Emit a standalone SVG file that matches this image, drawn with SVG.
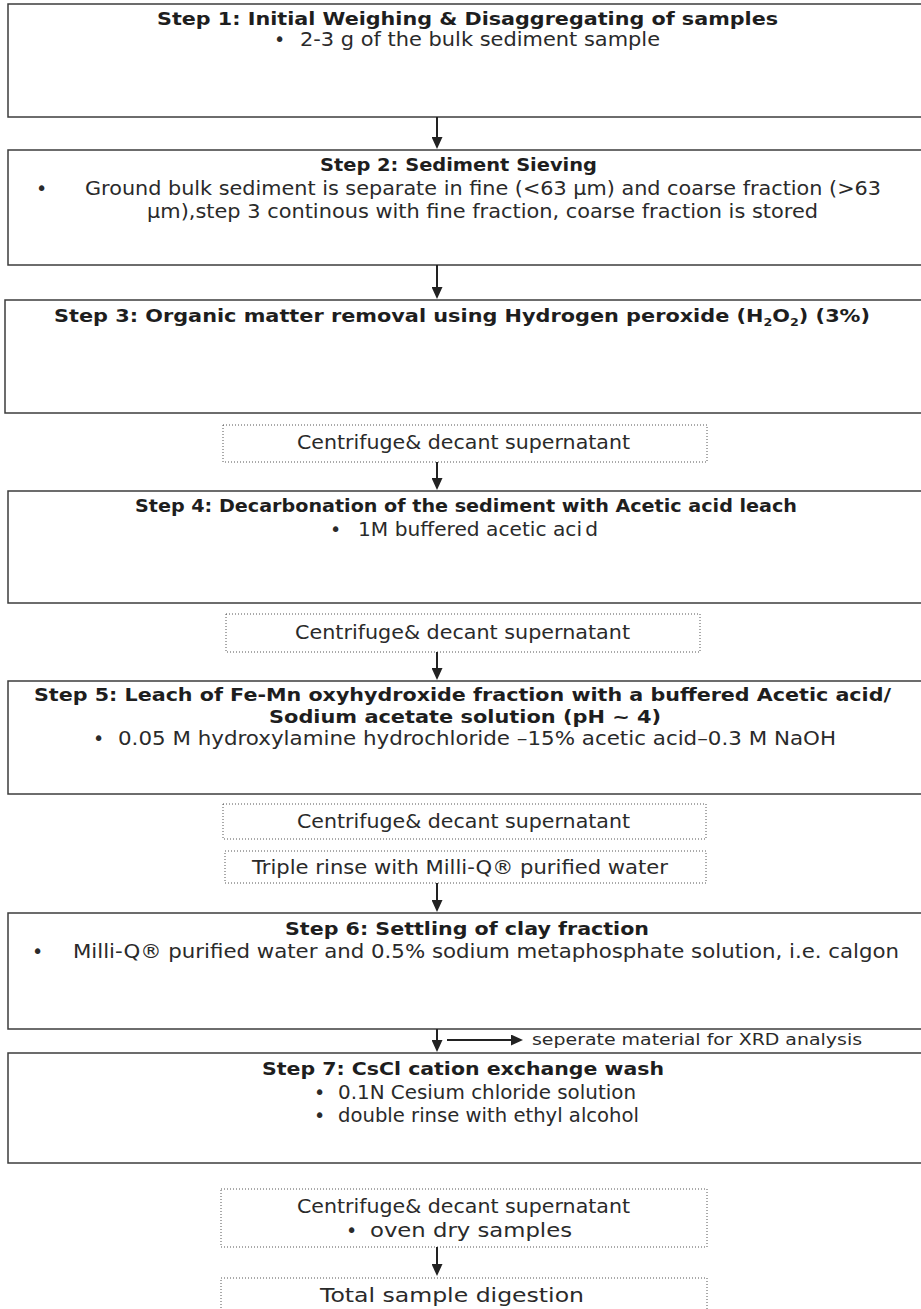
<svg xmlns="http://www.w3.org/2000/svg" width="921" height="1309" viewBox="0 0 921 1309">
<defs>
<style>
.box{fill:#fff;stroke:#3c3c3c;stroke-width:1.5}
.dot{fill:#fff;stroke:#555;stroke-width:1;stroke-dasharray:1 2}
.t{font-family:"DejaVu Sans",Verdana,sans-serif;font-weight:bold;font-size:18px;fill:#1e1e1e}
.p{font-family:"DejaVu Sans",Verdana,sans-serif;font-size:19px;fill:#2a2a2a}
.s{font-family:"DejaVu Sans",Verdana,sans-serif;font-size:16px;fill:#2a2a2a}
.c{stroke:#222;stroke-width:2;fill:none;marker-end:url(#ah)}
</style>
<marker id="ah" viewBox="0 0 12 11" refX="9" refY="5.5" markerWidth="12" markerHeight="11" markerUnits="userSpaceOnUse" orient="auto">
<path d="M0,0 L12,5.5 L0,11 z" fill="#222"/>
</marker>
</defs>
<rect width="921" height="1309" fill="#fff"/>

<g id="step1">
<rect class="box" x="8" y="4" width="920" height="113"/>
<text class="t" x="157" y="25" textLength="621" lengthAdjust="spacingAndGlyphs">Step 1: Initial Weighing &amp; Disaggregating of samples</text>
<text class="p" x="274" y="46">•</text>
<text class="p" x="300" y="46" textLength="360" lengthAdjust="spacingAndGlyphs">2-3 g of the bulk sediment sample</text>
</g>

<g id="step2">
<rect class="box" x="8" y="150" width="920" height="115"/>
<text class="t" x="320" y="171" textLength="277" lengthAdjust="spacingAndGlyphs">Step 2: Sediment Sieving</text>
<text class="p" x="36" y="195">•</text>
<text class="p" x="85" y="195" textLength="796" lengthAdjust="spacingAndGlyphs">Ground bulk sediment is separate in fine (&lt;63 μm) and coarse fraction (&gt;63</text>
<text class="p" x="147" y="218" textLength="671" lengthAdjust="spacingAndGlyphs">μm),step 3 continous with fine fraction, coarse fraction is stored</text>
</g>

<g id="step3">
<rect class="box" x="5" y="300" width="920" height="113"/>
<text class="t" x="54" y="322" textLength="816" lengthAdjust="spacingAndGlyphs">Step 3: Organic matter removal using Hydrogen peroxide (H<tspan font-size="11" dy="4">2</tspan><tspan dy="-4">O</tspan><tspan font-size="11" dy="4">2</tspan><tspan dy="-4">) (3%)</tspan></text>
</g>

<g id="rinse1">
<rect class="dot" x="223" y="425" width="484" height="37"/>
<text class="p" x="297" y="449" textLength="333" lengthAdjust="spacingAndGlyphs">Centrifuge&amp; decant supernatant</text>
</g>

<g id="step4">
<rect class="box" x="8" y="491" width="920" height="112"/>
<text class="t" x="135" y="512" textLength="662" lengthAdjust="spacingAndGlyphs">Step 4: Decarbonation of the sediment with Acetic acid leach</text>
<text class="p" x="330" y="536">•</text>
<text class="p" x="358" y="536" textLength="240" lengthAdjust="spacingAndGlyphs">1M buffered acetic aci<tspan dx="3">d</tspan></text>
</g>

<g id="rinse2">
<rect class="dot" x="226" y="614" width="474" height="38"/>
<text class="p" x="295" y="639" textLength="335" lengthAdjust="spacingAndGlyphs">Centrifuge&amp; decant supernatant</text>
</g>

<g id="step5">
<rect class="box" x="8" y="681" width="920" height="113"/>
<text class="t" x="34" y="701" textLength="857" lengthAdjust="spacingAndGlyphs">Step 5: Leach of Fe-Mn oxyhydroxide fraction with a buffered  Acetic acid/</text>
<text class="t" x="269" y="723" textLength="392" lengthAdjust="spacingAndGlyphs">Sodium acetate solution (pH ~ 4)</text>
<text class="p" x="93" y="745">•</text>
<text class="p" x="118" y="745" textLength="718" lengthAdjust="spacingAndGlyphs">0.05 M hydroxylamine hydrochloride –15% acetic acid–0.3 M NaOH</text>
</g>

<g id="rinse3">
<rect class="dot" x="223" y="804" width="483" height="35"/>
<text class="p" x="297" y="828" textLength="333" lengthAdjust="spacingAndGlyphs">Centrifuge&amp; decant supernatant</text>
</g>

<g id="rinse4">
<rect class="dot" x="225" y="851" width="481" height="32"/>
<text class="p" x="252" y="874" textLength="416" lengthAdjust="spacingAndGlyphs">Triple rinse with Milli-Q® purified water</text>
</g>

<g id="step6">
<rect class="box" x="8" y="913" width="920" height="116"/>
<text class="t" x="285" y="935" textLength="364" lengthAdjust="spacingAndGlyphs">Step 6: Settling of clay fraction</text>
<text class="p" x="32" y="958">•</text>
<text class="p" x="73" y="958" textLength="826" lengthAdjust="spacingAndGlyphs">Milli-Q® purified water and 0.5% sodium metaphosphate solution, i.e. calgon</text>
</g>

<g id="xrd">
<text class="s" x="532" y="1045" textLength="330" lengthAdjust="spacingAndGlyphs">seperate material for XRD analysis</text>
</g>

<g id="step7">
<rect class="box" x="8" y="1053" width="920" height="110"/>
<text class="t" x="262" y="1075" textLength="402" lengthAdjust="spacingAndGlyphs">Step 7: CsCl cation exchange wash</text>
<text class="p" x="314" y="1099">•</text>
<text class="p" x="338" y="1099" textLength="298" lengthAdjust="spacingAndGlyphs">0.1N Cesium chloride solution</text>
<text class="p" x="314" y="1122">•</text>
<text class="p" x="338" y="1122" textLength="301" lengthAdjust="spacingAndGlyphs">double rinse with ethyl alcohol</text>
</g>

<g id="rinse5">
<rect class="dot" x="221" y="1189" width="486" height="58"/>
<text class="p" x="297" y="1213" textLength="333" lengthAdjust="spacingAndGlyphs">Centrifuge&amp; decant supernatant</text>
<text class="p" x="346" y="1237">•</text>
<text class="p" x="370" y="1237" textLength="202" lengthAdjust="spacingAndGlyphs">oven dry samples</text>
</g>

<g id="final">
<rect class="dot" x="221" y="1278" width="486" height="45"/>
<text class="p" x="320" y="1302" textLength="264" lengthAdjust="spacingAndGlyphs">Total sample digestion</text>
</g>

<g id="connectors">
<line class="c" x1="437" y1="117" x2="437" y2="146"/>
<line class="c" x1="437" y1="265" x2="437" y2="296"/>
<line class="c" x1="437" y1="462" x2="437" y2="487"/>
<line class="c" x1="437" y1="652" x2="437" y2="677"/>
<line class="c" x1="437" y1="883" x2="437" y2="909"/>
<line class="c" x1="437" y1="1029" x2="437" y2="1049"/>
<line class="c" x1="447" y1="1040" x2="520" y2="1040"/>
<line class="c" x1="437" y1="1247" x2="437" y2="1273"/>
</g>
</svg>
